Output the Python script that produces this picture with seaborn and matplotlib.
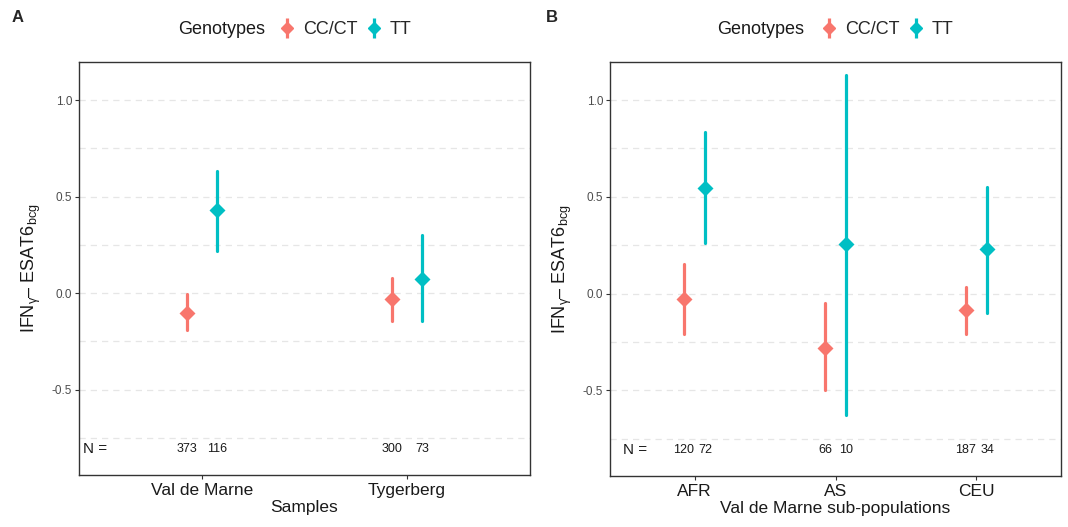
import pandas as pd
import seaborn as sns
import matplotlib.pyplot as plt
from matplotlib.lines import Line2D
from matplotlib.legend_handler import HandlerTuple

# Genotype groups and ggplot-like colours
GENOTYPES = ['CC/CT', 'TT']
PALETTE = {'CC/CT': '#F8766D', 'TT': '#00BFC4'}

# Panel A: samples (estimate, lower, upper)
samples = ['Val de Marne', 'Tygerberg']
samples_cc_est = [-0.104, -0.03]
samples_cc_low = [-0.19, -0.145]
samples_cc_high = [-0.005, 0.078]
samples_tt_est = [0.43, 0.072]
samples_tt_low = [0.22, -0.145]
samples_tt_high = [0.63, 0.30]
samples_n_cc = ['373', '300']
samples_n_tt = ['116', '73']

# Panel B: Val de Marne sub-populations
subpops = ['AFR', 'AS', 'CEU']
subpops_cc_est = [-0.026, -0.28, -0.085]
subpops_cc_low = [-0.21, -0.50, -0.21]
subpops_cc_high = [0.155, -0.05, 0.036]
subpops_tt_est = [0.545, 0.254, 0.228]
subpops_tt_low = [0.263, -0.627, -0.10]
subpops_tt_high = [0.835, 1.13, 0.55]
subpops_n_cc = ['120', '66', '187']
subpops_n_tt = ['72', '10', '34']

DODGE = 0.15


def build_frame(cats, est, low, high):
    """Long frame: three rows per point so median = estimate, full range = interval."""
    rows = []
    for g in GENOTYPES:
        for i, c in enumerate(cats):
            for v in (low[g][i], est[g][i], high[g][i]):
                rows.append({'group': c, 'genotype': g, 'value': v})
    return pd.DataFrame(rows)


def draw_panel(ax, cats, df, n_cc, n_tt, xlabel):
    sns.pointplot(data=df, x='group', y='value', hue='genotype', order=cats,
                  hue_order=GENOTYPES, palette=PALETTE, estimator='median',
                  errorbar=('pi', 100), dodge=DODGE, markers='D', linestyles='none',
                  markersize=6.3, err_kws={'linewidth': 2.3}, legend=False, ax=ax)
    ax.set_xlim(-0.6, len(cats) - 1 + 0.6)
    ax.set_ylim(-0.943, 1.197)
    ax.set_yticks([-0.5, 0.0, 0.5, 1.0])
    ax.set_yticklabels(['-0.5', '0.0', '0.5', '1.0'])
    for y in [-0.75, -0.5, -0.25, 0.0, 0.25, 0.5, 0.75, 1.0]:
        ax.axhline(y, color='#E6E6E6', linestyle=(0, (5, 4)), linewidth=0.9, zorder=0)
    for s in ax.spines.values():
        s.set_visible(True)
        s.set_color('#333333')
        s.set_linewidth(1.0)
    ax.tick_params(axis='both', which='major', direction='out', length=3, width=0.8,
                   color='#333333', bottom=True, left=True)
    ax.tick_params(axis='y', labelsize=8.5, labelcolor='#4D4D4D', pad=2)
    ax.tick_params(axis='x', labelsize=12.5, labelcolor='#1A1A1A', pad=3)
    ax.set_xlabel(xlabel, fontsize=12.5, color='#1A1A1A', labelpad=1)
    ax.set_ylabel(r'IFN$_{\mathrm{γ}}$– ESAT6$_{\mathrm{bcg}}$', fontsize=13,
                  color='#1A1A1A', labelpad=6)

    # sample size annotations
    ax.text(-0.58 if len(cats) == 2 else -0.51, -0.81, 'N =', fontsize=11,
            color='#1A1A1A', ha='left', va='center')
    for i in range(len(cats)):
        ax.text(i - DODGE / 2, -0.81, n_cc[i], fontsize=9, color='#1A1A1A',
                ha='center', va='center')
        ax.text(i + DODGE / 2, -0.81, n_tt[i], fontsize=9, color='#1A1A1A',
                ha='center', va='center')


sns.set_theme(style='white')
plt.rcParams['font.family'] = ['Liberation Sans', 'DejaVu Sans']
plt.rcParams['mathtext.fontset'] = 'custom'
plt.rcParams['mathtext.rm'] = 'Liberation Sans'
plt.rcParams['mathtext.it'] = 'Liberation Sans:italic'

fig = plt.figure(figsize=(10.68, 5.27), dpi=100)
W, H = 1068, 527
ax_a = fig.add_axes([79 / W, 1 - 475 / H, 451 / W, 413 / H])
ax_b = fig.add_axes([610 / W, 1 - 476 / H, 451 / W, 414 / H])

df_a = build_frame(samples,
                   {'CC/CT': samples_cc_est, 'TT': samples_tt_est},
                   {'CC/CT': samples_cc_low, 'TT': samples_tt_low},
                   {'CC/CT': samples_cc_high, 'TT': samples_tt_high})
df_b = build_frame(subpops,
                   {'CC/CT': subpops_cc_est, 'TT': subpops_tt_est},
                   {'CC/CT': subpops_cc_low, 'TT': subpops_tt_low},
                   {'CC/CT': subpops_cc_high, 'TT': subpops_tt_high})

draw_panel(ax_a, samples, df_a, samples_n_cc, samples_n_tt, 'Samples')
draw_panel(ax_b, subpops, df_b, subpops_n_cc, subpops_n_tt, 'Val de Marne sub-populations')

# legends on top of each panel (pointrange key: vertical line through a diamond)
handles = [(Line2D([], [], color=PALETTE[g], marker='|', markersize=15, markeredgewidth=2.3,
                   linestyle='none'),
            Line2D([], [], color=PALETTE[g], marker='D', markersize=6.3, linestyle='none'))
           for g in GENOTYPES]
for x_title, x_leg in [(178, 276), (717, 818)]:
    fig.text(x_title / W, 1 - 30 / H, 'Genotypes', fontsize=13, color='#1A1A1A',
             ha='left', va='center')
    fig.legend(handles, GENOTYPES, loc='center left', bbox_to_anchor=(x_leg / W, 1 - 30 / H),
               ncol=2, frameon=False, fontsize=13, handlelength=1.2, handletextpad=0.3,
               columnspacing=0.3, borderaxespad=0, borderpad=0,
               handler_map={tuple: HandlerTuple(ndivide=1, pad=0)})

fig.text(12 / W, 1 - 18 / H, 'A', fontsize=12, fontweight='bold', ha='left', va='center')
fig.text(546 / W, 1 - 18 / H, 'B', fontsize=12, fontweight='bold', ha='left', va='center')

fig.savefig('out.png', dpi=100)
